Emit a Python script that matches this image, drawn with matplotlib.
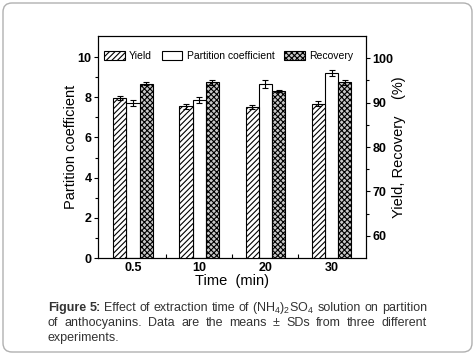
import numpy as np
import matplotlib
matplotlib.use("Agg")
import matplotlib.pyplot as plt
from matplotlib.patches import FancyBboxPatch

plt.rcParams['font.family'] = ['Liberation Sans', 'DejaVu Sans']
plt.rcParams['mathtext.fontset'] = 'custom'
plt.rcParams['mathtext.rm'] = 'Liberation Sans'
plt.rcParams['hatch.linewidth'] = 0.8

# data
times = ['0.5', '10', '20', '30']
yield_pct = [91.0, 89.2, 89.0, 89.8]
yield_err = [0.5, 0.6, 0.5, 0.5]
partition = [7.7, 7.87, 8.64, 9.22]
partition_err = [0.15, 0.13, 0.2, 0.15]
recovery = [94.3, 94.6, 92.6, 94.6]
recovery_err = [0.4, 0.6, 0.3, 0.6]

x = np.arange(len(times))
w = 0.2

fig = plt.figure(figsize=(4.75, 3.57), dpi=100)
fig.patches.append(FancyBboxPatch((0.03, 0.05), 4.69, 3.49,
                                  boxstyle="round,pad=0,rounding_size=0.09",
                                  transform=fig.dpi_scale_trans,
                                  fc='white', ec='#b0b0b0', lw=1.0, zorder=-10))

ax = fig.add_axes([0.2063, 0.2773, 0.5642, 0.6218])
ax.patch.set_alpha(0)
ax2 = ax.twinx()

ekw = dict(elinewidth=0.8, capthick=0.8, capsize=2.2, ecolor='black')
b1 = ax2.bar(x - w, yield_pct, w, color='white', edgecolor='black', hatch='//////',
             lw=0.8, yerr=yield_err, error_kw=ekw, label='Yield')
b2 = ax.bar(x, partition, w, color='white', edgecolor='black',
            lw=0.8, yerr=partition_err, error_kw=ekw, label='Partition coefficient')
b3 = ax2.bar(x + w, recovery, w, color='#c8c8c8', edgecolor='black', hatch='xxxxxx',
             lw=0.8, yerr=recovery_err, error_kw=ekw, label='Recovery')

ax.set_xlim(-0.53, 3.52)
ax.set_ylim(0, 11.05)
ax2.set_ylim(55, 105)

ax.set_xticks(x)
ax.set_xticklabels(times)
ax.set_xticks([0.5, 1.5, 2.5], minor=True)
ax.tick_params(axis='x', which='major', length=0, pad=3)
ax.tick_params(axis='x', which='minor', direction='in', length=3, width=0.8)

ax.set_yticks([0, 2, 4, 6, 8, 10])
ax.set_yticks([1, 3, 5, 7, 9], minor=True)
ax.tick_params(axis='y', which='major', direction='out', length=3, width=0.8, pad=1.5)
ax.tick_params(axis='y', which='minor', direction='out', length=2, width=0.8)

ax2.set_yticks([60, 70, 80, 90, 100])
ax2.set_yticks([65, 75, 85, 95], minor=True)
ax2.tick_params(axis='y', which='major', direction='out', length=3, width=0.8, pad=1.5)
ax2.tick_params(axis='y', which='minor', direction='out', length=2, width=0.8)

for lab in ax.get_xticklabels() + ax.get_yticklabels() + ax2.get_yticklabels():
    lab.set_fontweight('bold')
    lab.set_fontsize(9)

for a in (ax, ax2):
    for s in a.spines.values():
        s.set_linewidth(0.8)

ax.set_ylabel('Partition coefficient', fontsize=10.5, labelpad=0)
ax.set_xlabel('Time  (min)', fontsize=10.5, labelpad=0)
ax2.set_ylabel('Yield, Recovery    (%)', fontsize=10.5, labelpad=-1)

ax.legend([b1, b2, b3], ['Yield', 'Partition coefficient', 'Recovery'],
          loc='upper left', ncol=3, frameon=False, fontsize=7.5,
          handlelength=2.0, handleheight=0.9, columnspacing=0.9,
          handletextpad=0.4, borderaxespad=0.2, bbox_to_anchor=(0.0, 0.96))

# caption, first two lines justified between x=48 and x=427 px
cap_color = '#333333'
cap_size = 9
cap_lines = [
    [('Figure', 'bold'), ('5:', 'bold'), ('Effect', 'normal'), ('of', 'normal'),
     ('extraction', 'normal'), ('time', 'normal'), ('of', 'normal'),
     (r'(NH$_4$)$_2$SO$_4$', 'normal'), ('solution', 'normal'), ('on', 'normal'),
     ('partition', 'normal')],
    [('of', 'normal'), ('anthocyanins.', 'normal'), ('Data', 'normal'), ('are', 'normal'),
     ('the', 'normal'), ('means', 'normal'), ('\u00b1', 'normal'), ('SDs', 'normal'),
     ('from', 'normal'), ('three', 'normal'), ('different', 'normal')],
]
cap_y = [308, 323]
x_left, x_right = 48, 427
renderer = fig.canvas.get_renderer()
for words, yp in zip(cap_lines, cap_y):
    texts = [fig.text(0, 1 - yp / 357, wd, fontsize=cap_size, fontweight=wt,
                      color=cap_color, va='center') for wd, wt in words]
    widths = [t.get_window_extent(renderer).width for t in texts]
    gap = (x_right - x_left - sum(widths)) / (len(texts) - 1)
    xp = x_left
    for t, wdt in zip(texts, widths):
        t.set_x(xp / 475)
        xp += wdt + gap
fig.text(x_left / 475, 1 - 338 / 357, 'experiments.', fontsize=cap_size, color=cap_color,
         va='center')

fig.savefig('out.png', dpi=100)
